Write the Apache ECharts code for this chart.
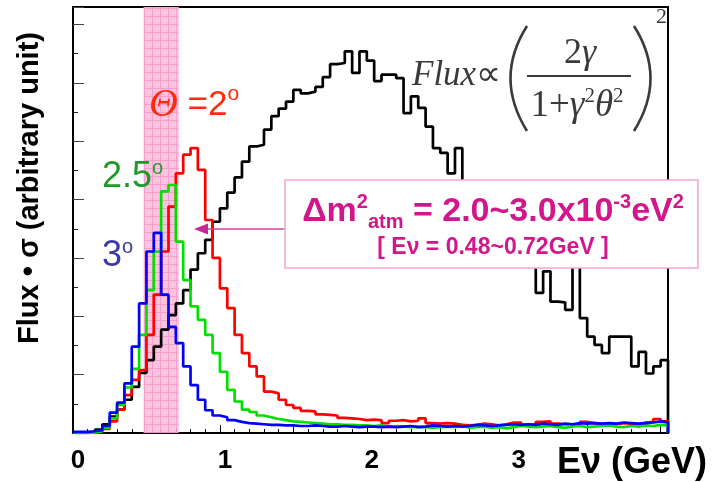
<!DOCTYPE html>
<html>
<head>
<meta charset="utf-8">
<script src="https://cdn.jsdelivr.net/npm/echarts@6/dist/echarts.min.js"></script>
<style>
  html, body { margin: 0; padding: 0; background: #ffffff; }
  #chart { width: 716px; height: 482px; }
</style>
</head>
<body>
<div id="chart"></div>
<script>
// Histogram binning: 0.05 GeV bins starting at 0 GeV
const binWidth = 0.05;
const binCount = 81;

// Unoscillated flux x cross-section (black), one value per bin
const fluxTotal = [
  0, 0, 0.01, 0.06, 0.15, 0.28, 0.40, 0.57, 0.79, 1.03,
  1.25, 1.48, 1.77, 2.02, 2.22, 2.45, 2.80, 3.08, 3.31, 3.62,
  3.85, 4.12, 4.38, 4.65, 4.91, 4.94, 5.20, 5.43, 5.56, 5.68,
  5.88, 5.82, 5.85, 5.93, 6.10, 6.32, 6.34, 6.54, 6.17, 6.54,
  6.38, 6.03, 6.14, 6.14, 6.08, 5.48, 5.77, 5.57, 5.25, 4.88,
  4.80, 4.45, 4.88, 4.15, 4.02, 3.86, 3.74, 3.58, 3.47, 3.30,
  3.21, 3.05, 2.96, 2.40, 2.77, 2.25, 2.24, 2.11, 3.00, 1.97,
  1.65, 1.51, 1.37, 1.65, 1.65, 1.65, 1.14, 1.39, 1.02, 1.14,
  1.25
];

// Off-axis 2 degrees (red)
const offAxis2 = [
  0, 0, 0, 0.02, 0.07, 0.20, 0.40, 0.65, 0.91, 1.08,
  1.68, 2.37, 3.11, 3.88, 4.45, 4.77, 4.88, 4.51, 3.65, 3.00,
  2.48, 2.14, 1.68, 1.37, 1.14, 0.97, 0.71, 0.68, 0.57, 0.48,
  0.43, 0.38, 0.37, 0.32, 0.31, 0.30, 0.26, 0.25, 0.24, 0.22,
  0.23, 0.22, 0.17, 0.21, 0.22, 0.20, 0.21, 0.25, 0.17, 0.16,
  0.17, 0.16, 0.14, 0.13, 0.14, 0.16, 0.15, 0.13, 0.15, 0.18,
  0.18, 0.14, 0.15, 0.19, 0.20, 0.16, 0.15, 0.15, 0.13, 0.19,
  0.17, 0.15, 0.16, 0.15, 0.17, 0.16, 0.15, 0.18, 0.19, 0.24,
  0.20
];

// Off-axis 2.5 degrees (green)
const offAxis25 = [
  0, 0, 0.01, 0.03, 0.09, 0.25, 0.48, 0.78, 1.10, 1.68,
  2.45, 3.11, 4.14, 4.25, 3.28, 2.62, 2.17, 1.94, 1.68, 1.37,
  1.05, 0.74, 0.54, 0.40, 0.36, 0.30, 0.27, 0.24, 0.22, 0.20,
  0.19, 0.18, 0.17, 0.16, 0.15, 0.15, 0.14, 0.14, 0.13, 0.13,
  0.12, 0.13, 0.11, 0.12, 0.11, 0.10, 0.11, 0.10, 0.09, 0.10,
  0.11, 0.10, 0.12, 0.09, 0.10, 0.11, 0.09, 0.10, 0.08, 0.10,
  0.12, 0.11, 0.10, 0.11, 0.12, 0.10, 0.09, 0.11, 0.12, 0.10,
  0.11, 0.12, 0.13, 0.11, 0.10, 0.12, 0.11, 0.13, 0.12, 0.14,
  0.13
];

// Off-axis 3 degrees (blue)
const offAxis3 = [
  0.02, 0.02, 0.03, 0.05, 0.12, 0.35, 0.52, 0.85, 1.48, 2.22,
  3.11, 3.43, 2.37, 1.82, 1.54, 1.14, 0.82, 0.57, 0.39, 0.30,
  0.27, 0.22, 0.19, 0.17, 0.16, 0.15, 0.14, 0.14, 0.13, 0.13,
  0.12, 0.12, 0.13, 0.12, 0.11, 0.11, 0.12, 0.11, 0.10, 0.11,
  0.11, 0.10, 0.11, 0.10, 0.11, 0.12, 0.10, 0.11, 0.13, 0.12,
  0.11, 0.12, 0.11, 0.12, 0.14, 0.13, 0.12, 0.13, 0.14, 0.15,
  0.14, 0.15, 0.14, 0.16, 0.15, 0.14, 0.16, 0.15, 0.17, 0.16,
  0.17, 0.16, 0.17, 0.16, 0.18, 0.17, 0.16, 0.17, 0.18, 0.20,
  0.18
];

// Energy window for the atmospheric mass splitting
const energyWindow = [0.48, 0.72];

// Axis labels
const xTickLabels = ['0', '1', '2', '3'];
const xAxisTitle = 'E\u03bd (GeV)';
const yAxisTitle = 'Flux \u2022 \u03c3 (arbitrary unit)';
const yMax = 7.3;

const energyMax = binCount * binWidth;

// Step outline: one point per bin low edge, closed down to zero at the last edge
function histPoints(values) {
  const pts = values.map((v, i) => [Math.round(i * binWidth * 1000) / 1000, v]);
  pts.push([energyMax, values[values.length - 1]]);
  pts.push([energyMax, 0]);
  return pts;
}

// Pink cross-hatched fill for the energy window band
function hatchPattern() {
  const c = document.createElement('canvas');
  c.width = 8; c.height = 8;
  const g = c.getContext('2d');
  g.fillStyle = '#fcc0df';
  g.fillRect(0, 0, 8, 8);
  g.fillStyle = '#f39bca';
  g.fillRect(0, 0, 8, 1);
  g.fillRect(0, 0, 1, 8);
  return c;
}

const chart = echarts.init(document.getElementById('chart'), null, { renderer: 'canvas' });

const SANS = 'Liberation Sans, Arial, sans-serif';
const SERIF = 'Liberation Serif, Times New Roman, serif';
const INK = '#3a3a3a';
const MAGENTA = '#d2168c';

function histSeries(name, values, color, z) {
  return {
    name: name,
    type: 'line',
    step: 'end',
    data: histPoints(values),
    symbol: 'none',
    showSymbol: false,
    xAxisIndex: 0,
    yAxisIndex: 0,
    lineStyle: { color: color, width: 2.7 },
    z: z,
    animation: false
  };
}

const blackSeries = histSeries('flux', fluxTotal, '#000000', 2);
blackSeries.markArea = {
  silent: true,
  z: 1,
  itemStyle: { color: { image: hatchPattern(), repeat: 'repeat' }, opacity: 0.95 },
  data: [[{ xAxis: energyWindow[0] }, { xAxis: energyWindow[1] }]]
};

const option = {
  animation: false,
  backgroundColor: '#ffffff',
  grid: {
    left: 73, top: 7, right: 48, bottom: 49,
    show: true, borderColor: '#000000', borderWidth: 2,
    backgroundColor: 'transparent'
  },
  xAxis: [
    {
      type: 'value', min: 0, max: energyMax, interval: 0.1,
      axisLine: { show: true, onZero: false, lineStyle: { color: '#000', width: 2 } },
      axisTick: { show: true, inside: true, length: 4, lineStyle: { color: '#000', width: 1 } },
      splitLine: { show: false },
      axisLabel: {
        show: true, margin: 15, color: '#000', fontSize: 26, fontWeight: 'bold',
        fontFamily: SANS, padding: [0, 0, 0, 10],
        showMinLabel: true, showMaxLabel: false,
        formatter: function (v) {
          const r = Math.round(v);
          if (Math.abs(v - r) < 1e-6 && r < xTickLabels.length) return xTickLabels[r];
          return '';
        }
      }
    },
    {
      type: 'value', min: 0, max: energyMax, interval: 0.5, position: 'bottom',
      axisLine: { show: false },
      axisTick: { show: true, inside: true, length: 8, lineStyle: { color: '#000', width: 1 } },
      axisLabel: { show: false },
      splitLine: { show: false }
    }
  ],
  yAxis: [
    {
      type: 'value', min: 0, max: yMax, interval: 0.5,
      axisLine: { show: true, onZero: false, lineStyle: { color: '#000', width: 2 } },
      axisTick: { show: true, inside: true, length: 5, lineStyle: { color: '#222', width: 1 } },
      axisLabel: { show: false },
      splitLine: { show: false }
    },
    {
      type: 'value', min: 0, max: yMax, interval: 1, position: 'left',
      axisLine: { show: false },
      axisTick: { show: true, inside: true, length: 11, lineStyle: { color: '#444', width: 1 } },
      axisLabel: { show: false },
      splitLine: { show: false }
    }
  ],
  series: [
    blackSeries,
    histSeries('2deg', offAxis2, '#ff0000', 3),
    histSeries('2.5deg', offAxis25, '#00e000', 4),
    histSeries('3deg', offAxis3, '#0000ff', 5)
  ],
  graphic: [
    // vertical axis title
    {
      type: 'text', x: 30, y: 188, rotation: Math.PI / 2, z: 100,
      style: { text: yAxisTitle, font: 'bold 29px ' + SANS, fill: '#000', align: 'center', verticalAlign: 'middle' }
    },
    // horizontal axis title
    {
      type: 'text', x: 557, y: 463, z: 100,
      style: { text: xAxisTitle, font: 'bold 36px ' + SANS, fill: '#000', align: 'left', verticalAlign: 'middle' }
    },
    // angle labels
    {
      type: 'text', x: 149, y: 105, z: 100,
      style: {
        text: '{th|\u0398}{eq| =2}{sup|o}', align: 'left', verticalAlign: 'middle',
        rich: {
          th: { fontFamily: SERIF, fontStyle: 'italic', fontSize: 40, fill: '#ff2a0a', lineHeight: 42 },
          eq: { fontFamily: SANS, fontSize: 35, fill: '#ff2a0a', lineHeight: 42 },
          sup: { fontFamily: SANS, fontSize: 21, fill: '#ff2a0a', lineHeight: 21, verticalAlign: 'top' }
        }
      }
    },
    {
      type: 'text', x: 102, y: 177, z: 100,
      style: {
        text: '{n|2.5}{sup|o}', align: 'left', verticalAlign: 'middle',
        rich: {
          n: { fontFamily: SANS, fontSize: 36, fill: '#1f9a2a', lineHeight: 38 },
          sup: { fontFamily: SANS, fontSize: 20, fill: '#1f9a2a', lineHeight: 20, verticalAlign: 'top' }
        }
      }
    },
    {
      type: 'text', x: 102, y: 256, z: 100,
      style: {
        text: '{n|3}{sup|o}', align: 'left', verticalAlign: 'middle',
        rich: {
          n: { fontFamily: SANS, fontSize: 36, fill: '#3a3aa6', lineHeight: 38 },
          sup: { fontFamily: SANS, fontSize: 20, fill: '#3a3aa6', lineHeight: 20, verticalAlign: 'top' }
        }
      }
    },
    // flux formula
    {
      type: 'text', x: 412, y: 76, z: 100,
      style: {
        text: '{i|Flux}{r|\u221d}', align: 'left', verticalAlign: 'middle',
        rich: {
          i: { fontFamily: SERIF, fontStyle: 'italic', fontSize: 35, fill: INK },
          r: { fontFamily: SERIF, fontSize: 35, fill: INK }
        }
      }
    },
    {
      type: 'bezierCurve', z: 100,
      shape: { x1: 527, y1: 26, cpx1: 494, cpy1: 78, x2: 527, y2: 131 },
      style: { stroke: INK, lineWidth: 2.6, fill: null }
    },
    {
      type: 'bezierCurve', z: 100,
      shape: { x1: 634, y1: 26, cpx1: 667, cpy1: 78, x2: 634, y2: 131 },
      style: { stroke: INK, lineWidth: 2.6, fill: null }
    },
    {
      type: 'text', x: 580, y: 54, z: 100,
      style: {
        text: '{r|2}{i|\u03b3}', align: 'center', verticalAlign: 'middle',
        rich: {
          i: { fontFamily: SERIF, fontStyle: 'italic', fontSize: 36, fill: INK },
          r: { fontFamily: SERIF, fontSize: 36, fill: INK }
        }
      }
    },
    {
      type: 'line', z: 100,
      shape: { x1: 527, y1: 76, x2: 631, y2: 76 },
      style: { stroke: INK, lineWidth: 1.8 }
    },
    {
      type: 'text', x: 577, y: 106, z: 100,
      style: {
        text: '{r|1+}{i|\u03b3}{s|2}{i|\u03b8}{s|2}', align: 'center', verticalAlign: 'middle',
        rich: {
          i: { fontFamily: SERIF, fontStyle: 'italic', fontSize: 37, fill: INK, lineHeight: 40 },
          r: { fontFamily: SERIF, fontSize: 37, fill: INK, lineHeight: 40 },
          s: { fontFamily: SERIF, fontSize: 21, fill: INK, lineHeight: 21, verticalAlign: 'top' }
        }
      }
    },
    {
      type: 'text', x: 656, y: 17, z: 100,
      style: { text: '2', font: '22px ' + SERIF, fill: INK, align: 'left', verticalAlign: 'middle' }
    },
    // annotation box
    {
      type: 'rect', z: 100,
      shape: { x: 285, y: 180, width: 413, height: 88 },
      style: { fill: '#ffffff', stroke: '#f5a6d0', lineWidth: 1.6 }
    },
    {
      type: 'text', x: 493, y: 212, z: 101,
      style: {
        text: '{m|\u0394m}{sup|2}{sub|atm}{m| = 2.0~3.0x10}{sup|-3}{m|eV}{sup|2}',
        align: 'center', verticalAlign: 'middle',
        rich: {
          m: { fontFamily: SANS, fontWeight: 'bold', fontSize: 34, fill: MAGENTA, lineHeight: 40 },
          sup: { fontFamily: SANS, fontWeight: 'bold', fontSize: 20, fill: MAGENTA, lineHeight: 20, verticalAlign: 'top' },
          sub: { fontFamily: SANS, fontWeight: 'bold', fontSize: 20, fill: MAGENTA, lineHeight: 20, verticalAlign: 'bottom' }
        }
      }
    },
    {
      type: 'text', x: 493, y: 248, z: 101,
      style: { text: '[ E\u03bd = 0.48~0.72GeV ]', font: 'bold 23px ' + SANS, fill: MAGENTA, align: 'center', verticalAlign: 'middle' }
    },
    // arrow pointing at the energy window
    {
      type: 'line', z: 100,
      shape: { x1: 284, y1: 229, x2: 205, y2: 229 },
      style: { stroke: '#d040a4', lineWidth: 1.6 }
    },
    {
      type: 'polygon', z: 100,
      shape: { points: [[194, 229], [208, 223.5], [208, 234.5]] },
      style: { fill: '#c42a96' }
    }
  ]
};

chart.setOption(option);
</script>
</body>
</html>
